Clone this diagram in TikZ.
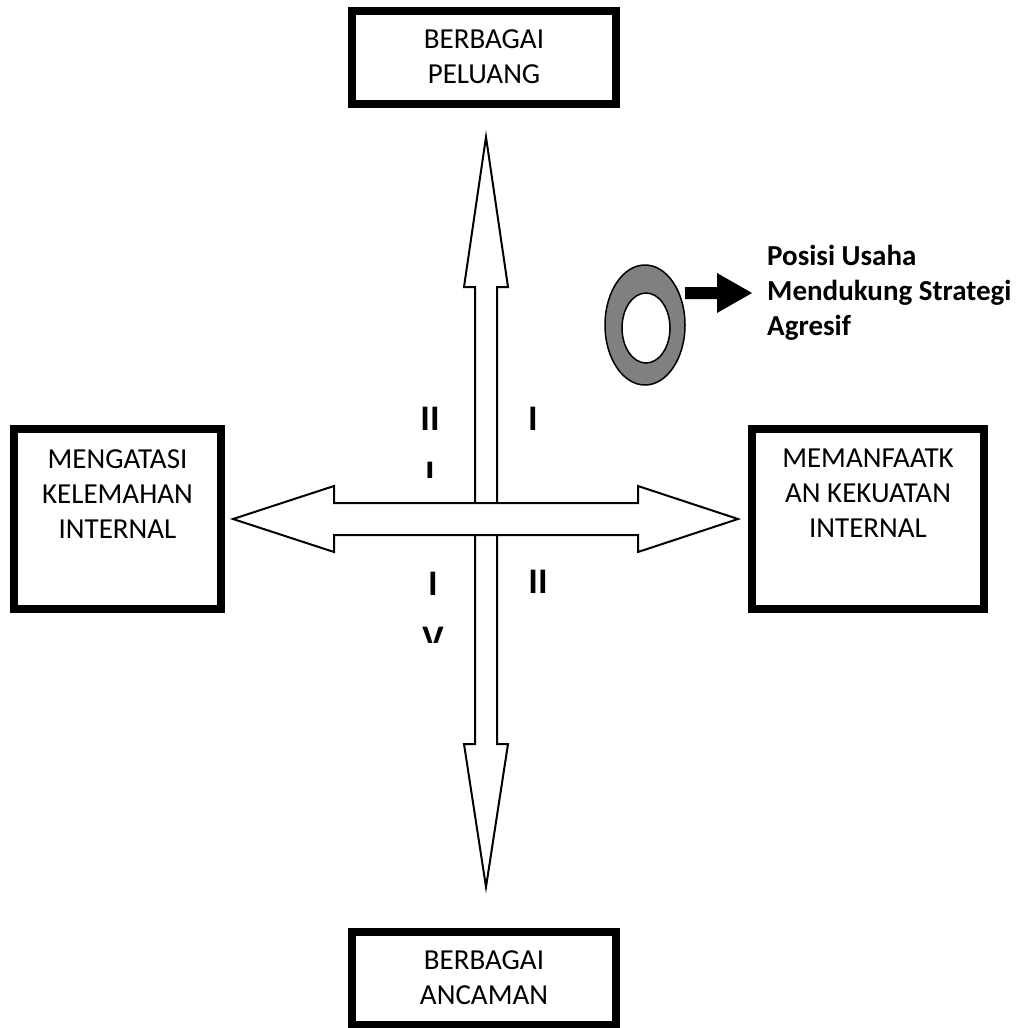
\documentclass[tikz,border=0pt]{standalone}
\usepackage{fontspec}
\setmainfont{Carlito}
\usetikzlibrary{positioning}
\usetikzlibrary{shapes.geometric}

\begin{document}
\begin{tikzpicture}
[x=1pt,y=-1pt,
 kotak/.style={draw,line width=8pt,inner sep=0pt},
 isi/.style={align=center,inner sep=0pt,font=\fontsize{29}{35}\selectfont},
 panah/.style={draw,line width=2pt,fill=white,line join=miter},
 kuadran/.style={inner sep=0pt,anchor=base,font=\fontsize{36}{44}\selectfont\bfseries}]

\useasboundingbox (0,0) rectangle (1021,1028);

% panah tegak dan mendatar
\draw[panah] (486,137) -- (508,287) -- (497,287) -- (497,744) -- (508,744) -- (486,887)
  -- (464,744) -- (475,744) -- (475,287) -- (464,287) -- cycle;
\draw[panah] (233,519) -- (334,486) -- (334,503) -- (638,503) -- (638,486) -- (738,519)
  -- (638,552) -- (638,535) -- (334,535) -- (334,552) -- cycle;

% kotak
\node[kotak,minimum width=264pt,minimum height=93pt] (peluang) at (484,57.5) {};
\node[isi,below=22pt of peluang.north] (tpeluang) {BERBAGAI\\PELUANG};

\node[kotak,minimum width=207pt,minimum height=180pt] (kelemahan) at (117.5,519) {};
\node[isi,below=24pt of kelemahan.north] (tkelemahan) {MENGATASI\\KELEMAHAN\\INTERNAL};

\node[kotak,minimum width=232pt,minimum height=180pt] (kekuatan) at (868,519) {};
\node[isi,below=24pt of kekuatan.north] (tkekuatan) {MEMANFAATK\\AN KEKUATAN\\INTERNAL};

\node[kotak,minimum width=264pt,minimum height=93pt] (ancaman) at (484,978) {};
\node[isi,below=23pt of ancaman.north] (tancaman) {BERBAGAI\\ANCAMAN};

% kuadran
\node[kuadran] (k1) at (533,430) {I};
\node[kuadran] (k3a) at (430,430) {II};
\begin{scope}
\clip (400,440) rectangle (460,477);
\node[kuadran] (k3b) at (430,485) {I};
\end{scope}
\node[kuadran] (k2) at (538,593) {II};
\node[kuadran] (k4a) at (433,595) {I};
\begin{scope}
\clip (400,600) rectangle (470,642);
\node[kuadran] (k4b) at (433,650) {V};
\end{scope}

% posisi usaha
\node[ellipse,draw,line width=1.5pt,fill=gray,minimum width=80pt,minimum height=120pt,inner sep=0pt] (cincin) at (645,325) {};
\node[ellipse,draw,line width=1.5pt,fill=white,minimum width=48pt,minimum height=70pt,inner sep=0pt] (lubang) at (646,328) {};
\fill[black] (685,287) -- (717,287) -- (717,273) -- (752,293) -- (717,313) -- (717,299) -- (685,299) -- cycle;
\node[anchor=north west,align=left,inner sep=0pt,font=\fontsize{29}{35}\selectfont\bfseries] (ket) at (767,245)
  {Posisi Usaha\\Mendukung Strategi\\Agresif};
\end{tikzpicture}
\end{document}
